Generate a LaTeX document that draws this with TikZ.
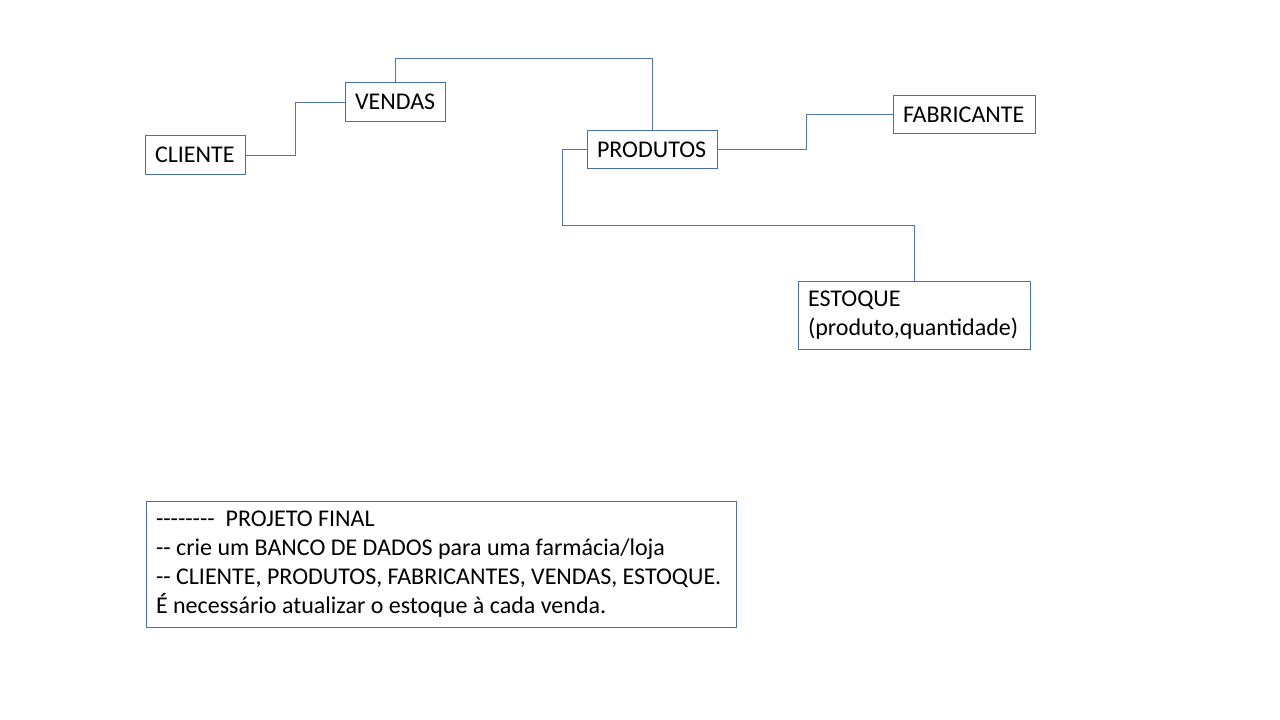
\documentclass[tikz,border=0pt]{standalone}
\usepackage{fontspec}
\setmainfont{Carlito}
\usetikzlibrary{positioning, calc}
\definecolor{boxblue}{HTML}{4A6EA8}
\definecolor{linkblue}{HTML}{4F74B0}

\begin{document}
\begin{tikzpicture}[x=1pt, y=-1pt, line width=1pt,
  entbox/.style 2 args={
    draw=boxblue, line width=0.9pt, fill=white,
    minimum width=#1, text width=#1-20pt, minimum height=#2,
    inner xsep=10pt, inner ysep=0pt, align=flush left,
    font=\fontsize{24}{29}\selectfont
  },
  link/.style={draw=linkblue, line width=0.9pt}]

% Background
\useasboundingbox (0,0) rectangle (1280,720);
\fill[white] (0,0) rectangle (1280,720);

% --- Entities ---
\node[entbox={100pt}{39pt}] (cliente) at (195,155) {CLIENTE};
\node[entbox={100pt}{39pt}] (vendas) at (395,102) {VENDAS};
\node[entbox={130pt}{38pt}] (produtos) at (652,149.5) {PRODUTOS};
\node[entbox={142pt}{38pt}] (fabricante) at (964,114.5) {FABRICANTE};
\node[entbox={232pt}{68pt}] (estoque) at (914,315.5)
  {ESTOQUE\\(produto,quantidade)};

% --- Links ---
\draw[link] (cliente.east) -- ++(50,0) |- (vendas.west);
\draw[link] (vendas.north) -- ++(0,-24) -| (produtos.north);
\draw[link] (produtos.east) -- ++(89,0) |- (fabricante.west);
\draw[link] (produtos.west) -- ++(-24,0) -- ++(0,76) -| (estoque.north);

% --- Note ---
\node[entbox={590pt}{126pt}] (nota) at (441,564)
  {-{}-{}-{}-{}-{}-{}-{}- \ PROJETO FINAL\\
   -{}- crie um BANCO DE DADOS para uma farmácia/loja\\
   -{}- CLIENTE, PRODUTOS,\ FABRICANTES, VENDAS, \mbox{ESTOQUE.}\\
   É necessário atualizar o estoque à cada venda.};

\end{tikzpicture}
\end{document}
